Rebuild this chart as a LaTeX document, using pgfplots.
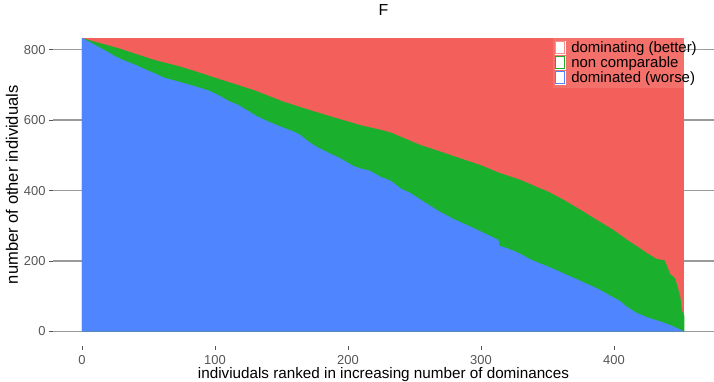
\documentclass[border=0pt]{standalone}
\usepackage{pgfplots}
\pgfplotsset{compat=1.18}
\usepackage{pgfplotstable}
\usepackage{fontspec}
\setmainfont{Liberation Sans}
\usetikzlibrary{calc}
\definecolor{cred}{HTML}{F3605B}
\definecolor{cgreen}{HTML}{1BAF2E}
\definecolor{cblue}{HTML}{4F86FF}
\definecolor{cgrid}{HTML}{9A9A9A}
\definecolor{ctick}{HTML}{555555}

\pgfplotstableread{
x y
0 833
10 813
20 792
25 781
30 772
40 757
47 745
55 732
62 720
70 712
85 696
95 684
102 672
110 655
117 644
125 626
131 612
140 596
149 582
160 566
164 558
170 540
176 525
185 508
194 492
204 470
210 462
216 457
224 440
232 428
240 405
247 393
258 366
269 340
280 318
292 298
302 280
313 260
314 243
320 236
329 222
337 205
344 194
352 182
362 165
374 145
387 123
398 100
405 85
409 72
416 55
425 40
437 26
445 14
453 0
}\dominated

\pgfplotstableread{
x y
0 833
10 822
20 812
30 801
42 786
55 770
72 754
85 739
97 724
111 707
117 700
130 684
151 653
170 630
191 606
210 585
224 573
232 565
254 530
270 510
284 492
300 472
314 450
330 430
344 407
350 398
362 374
375 345
387 317
400 287
410 260
420 235
425 222
432 206
438 202
440 185
442 165
446 150
448 125
450 95
451 60
453 44
}\upper

\pgfplotstableread{
x y
0 833
453 833
}\total

\begin{document}
\begin{tikzpicture}
\begin{axis}[
  name=ax,
  scale only axis,
  width=661bp, height=293.5bp,
  xmin=-21.8, xmax=475.2,
  ymin=0, ymax=833,
  separate axis lines,
  axis line style={draw=none},
  xtick={0,100,200,300,400},
  ytick={0,200,400,600,800},
  ymajorgrids,
  grid style={cgrid, line width=1.3bp},
  tick align=outside,
  xtick pos=bottom, ytick pos=left,
  major tick length=4bp,
  x tick style={yshift=-14bp, ctick, line width=0.8bp},
  y tick style={ctick, line width=1bp},
  /pgf/number format/assume math mode=true,
  tick label style={font=\fontsize{13}{15}\selectfont, text=ctick},
  xticklabel style={yshift=-16bp},
  xlabel={indiviudals ranked in increasing number of dominances},
  ylabel={number of other individuals},
  xlabel style={at={(axis description cs:0.5,-0.146)}, anchor=center, font=\fontsize{15.3}{18}\selectfont},
  ylabel style={at={(axis description cs:-0.062,0.5)}, anchor=center, font=\fontsize{16.6}{19}\selectfont},
  title={F},
  title style={at={(axis description cs:0.5,1)}, anchor=center, yshift=22bp, font=\fontsize{16}{18}\selectfont},
  legend style={at={(axis description cs:0.756,1.003)}, anchor=north west,
    fill=white, fill opacity=0.1, text opacity=1, draw=none,
    font=\fontsize{15}{17}\selectfont, row sep=-1.2bp, inner xsep=2bp, inner ysep=2bp,
    nodes={fill=none},
    /tikz/column 1/.style={column sep=4bp},
    cells={anchor=west}},
  legend image code/.code={%
    \fill[white, fill opacity=1] (0bp,-6.5bp) rectangle (10bp,6.5bp);
    \draw[#1, line width=1.3bp, draw opacity=1, fill=none] (0.6bp,-5.9bp) rectangle (9.4bp,5.9bp);},
]
\addplot[fill=cred, draw=none, forget plot] table[x=x,y=y] {\total} \closedcycle;
\addplot[fill=cgreen, draw=none, forget plot] table[x=x,y=y] {\upper} \closedcycle;
\addplot[fill=cblue, draw=none, forget plot] table[x=x,y=y] {\dominated} \closedcycle;
\addlegendimage{draw=cred!70!white}
\addlegendentry{dominating (better)}
\addlegendimage{draw=cgreen}
\addlegendentry{non comparable}
\addlegendimage{draw=cblue}
\addlegendentry{dominated (worse)}
\end{axis}
\pgfresetboundingbox
\path[use as bounding box] ($(ax.south west)+(-53bp,-50.5bp)$) rectangle ($(ax.north east)+(0bp,38bp)$);
\end{tikzpicture}
\end{document}
